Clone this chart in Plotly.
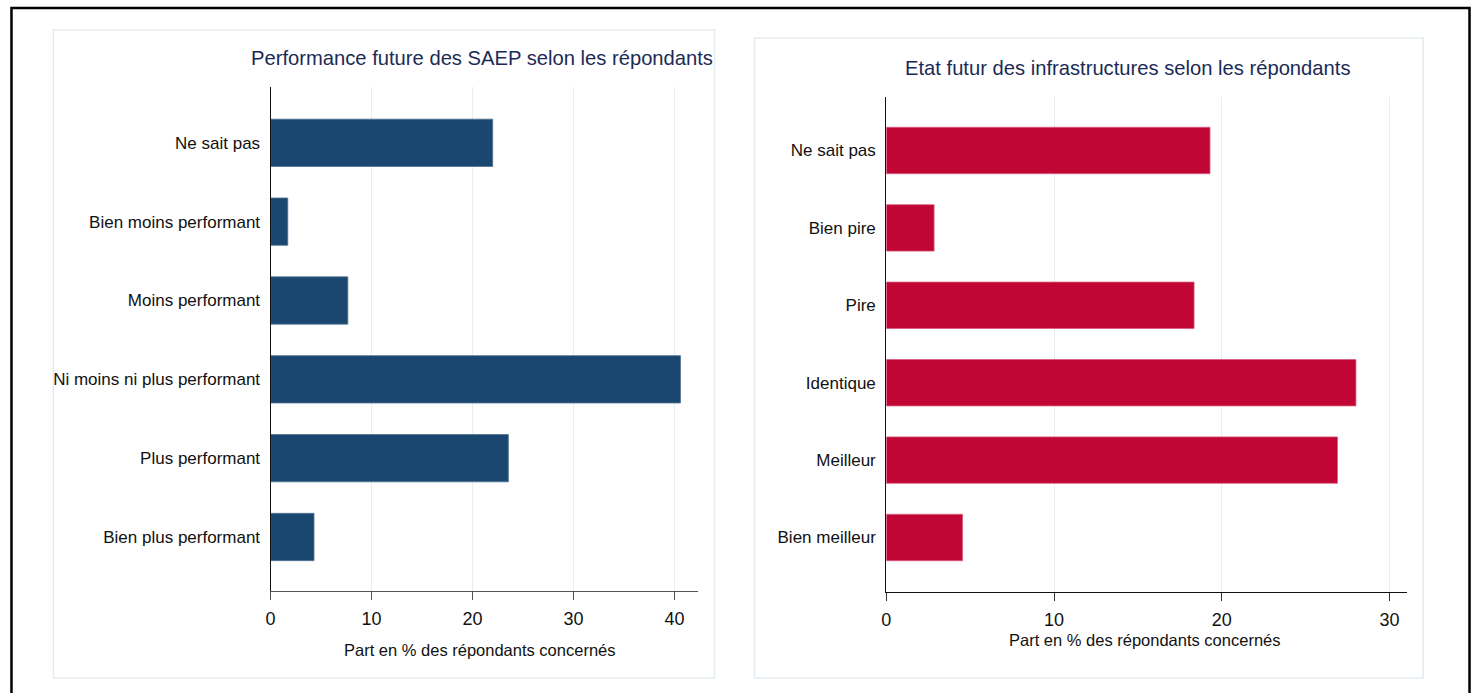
import plotly.graph_objects as go

W, H = 1473, 693

left_categories = ["Ne sait pas", "Bien moins performant", "Moins performant",
                   "Ni moins ni plus performant", "Plus performant", "Bien plus performant"]
left_values = [22.0, 1.7, 7.65, 40.6, 23.55, 4.3]

right_categories = ["Ne sait pas", "Bien pire", "Pire", "Identique", "Meilleur", "Bien meilleur"]
right_values = [19.3, 2.85, 18.35, 28.0, 26.9, 4.55]

left_ticks = [0, 10, 20, 30, 40]
right_ticks = [0, 10, 20, 30]

left_title = "Performance future des SAEP selon les répondants"
right_title = "Etat futur des infrastructures selon les répondants"
x_title = "Part en % des répondants concernés"

FONT = "Liberation Sans Narrow, Arial Narrow, Liberation Sans, Arial, sans-serif"
NAVY = "#1a476f"
CRAN = "#c10534"
GRID = "#e6eef1"
TITLE_COL = "#1c2b55"


def px(x):
    return x / W


def py(y):
    return 1 - y / H


fig = go.Figure()
fig.add_trace(go.Bar(x=left_values, y=left_categories, orientation="h",
                     marker=dict(color=NAVY, line=dict(color="#4f7193", width=0.8)),
                     width=0.6, xaxis="x", yaxis="y", showlegend=False))
fig.add_trace(go.Bar(x=right_values, y=right_categories, orientation="h",
                     marker=dict(color=CRAN, line=dict(color="#d9607e", width=0.8)),
                     width=0.6, xaxis="x2", yaxis="y2", showlegend=False))

axis_common = dict(showgrid=True, gridcolor=GRID, gridwidth=1, zeroline=False,
                   ticks="outside", ticklen=8, tickwidth=1,
                   tickfont=dict(family=FONT, size=18, color="#111111"),
                   ticklabelstandoff=3,
                   showline=True, linewidth=1.2)
yaxis_common = dict(type="category", showgrid=False, zeroline=False, ticks="",
                    showline=True, linecolor="#111111", linewidth=1.2,
                    tickfont=dict(family=FONT, size=17, color="#111111"),
                    ticklabelstandoff=6)

fig.update_layout(
    width=W, height=H,
    margin=dict(l=0, r=0, t=0, b=0),
    paper_bgcolor="white", plot_bgcolor="white",
    bargap=0.4,
    xaxis=dict(domain=[px(266.5), px(695.7)], range=[0, 42.37], tickvals=left_ticks,
               anchor="y", linecolor="#555555", tickcolor="#555555", **axis_common),
    yaxis=dict(domain=[py(591), py(87.3)], range=[5.685, -0.704], anchor="x",
               categoryorder="array", categoryarray=left_categories, **yaxis_common),
    xaxis2=dict(domain=[px(884.3), px(1406.7)], range=[0, 31.04], tickvals=right_ticks,
                anchor="y2", linecolor="#111111", tickcolor="#333333", **axis_common),
    yaxis2=dict(domain=[py(592.3), py(97)], range=[5.708, -0.691], anchor="x2",
                categoryorder="array", categoryarray=right_categories, **yaxis_common),
)

shapes = [
    # outer frame
    dict(type="rect", xref="paper", yref="paper", x0=px(6.5), x1=px(1469.5), y0=py(720), y1=py(8),
         line=dict(color="black", width=2.5), fillcolor="rgba(0,0,0,0)", layer="above"),
    # panels
    dict(type="rect", xref="paper", yref="paper", x0=px(48.5), x1=px(712), y0=py(678), y1=py(30),
         line=dict(color="#e4ecef", width=1.5), fillcolor="rgba(0,0,0,0)", layer="below"),
    dict(type="rect", xref="paper", yref="paper", x0=px(752), x1=px(1423), y0=py(678), y1=py(38),
         line=dict(color="#e4ecef", width=1.5), fillcolor="rgba(0,0,0,0)", layer="below"),
]
fig.update_layout(shapes=shapes)

annotations = [
    dict(text=left_title, x=px(479), y=py(58), xref="paper", yref="paper",
         showarrow=False, xanchor="center", yanchor="middle",
         font=dict(family=FONT, size=20.2, color=TITLE_COL)),
    dict(text=right_title, x=px(1127), y=py(68), xref="paper", yref="paper",
         showarrow=False, xanchor="center", yanchor="middle",
         font=dict(family=FONT, size=20.2, color=TITLE_COL)),
    dict(text=x_title, x=px(476.5), y=py(650), xref="paper", yref="paper",
         showarrow=False, xanchor="center", yanchor="middle",
         font=dict(family=FONT, size=16.5, color="#111111")),
    dict(text=x_title, x=px(1144), y=py(640), xref="paper", yref="paper",
         showarrow=False, xanchor="center", yanchor="middle",
         font=dict(family=FONT, size=16.5, color="#111111")),
]
fig.update_layout(annotations=annotations)

post = (
    "document.documentElement.style.overflow='hidden';"
    "document.body.style.margin='0';document.body.style.overflow='hidden';"
    "var d=document.querySelector('.plotly-graph-div');"
    "d.style.position='fixed';d.style.left='0px';d.style.top='0px';"
)
fig.write_html("out.html", config={"displayModeBar": False}, post_script=post)
